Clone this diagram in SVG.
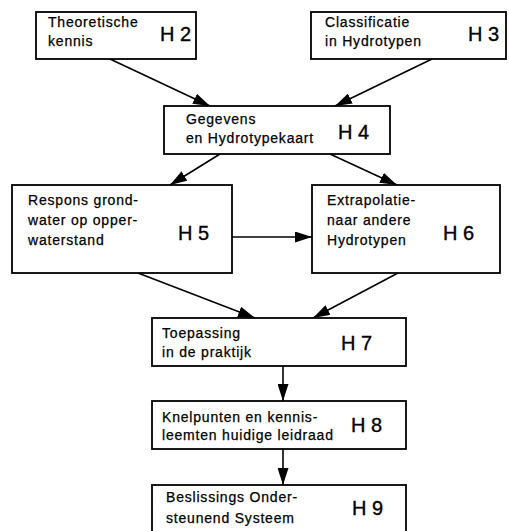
<svg xmlns="http://www.w3.org/2000/svg" width="509" height="531" viewBox="0 0 509 531">
  <defs>
    <marker id="arrow" viewBox="0 0 17 11" markerWidth="17" markerHeight="11" refX="17" refY="5.5" orient="auto" markerUnits="userSpaceOnUse">
      <path d="M0,0 L17,5.5 L0,11 z" fill="#000"/>
    </marker>
    <style>
      .box { fill: #fff; stroke: #000; stroke-width: 1.8; }
      .txt { font-family: "Liberation Sans", Arial, sans-serif; font-size: 14px; letter-spacing: 0.8px; fill: #000; stroke: #000; stroke-width: 0.25; }
      .ch { font-family: "Liberation Sans", Arial, sans-serif; font-size: 20px; fill: #000; stroke: #000; stroke-width: 0.35; }
      .edge { stroke: #000; stroke-width: 1.6; fill: none; marker-end: url(#arrow); }
    </style>
  </defs>

  <rect width="509" height="531" fill="#fff"/>

  <!-- connectors -->
  <g id="connectors">
    <line class="edge" x1="110" y1="59" x2="210" y2="106"/>
    <line class="edge" x1="432" y1="59" x2="335" y2="106"/>
    <line class="edge" x1="220" y1="154" x2="170" y2="185"/>
    <line class="edge" x1="330" y1="154" x2="397" y2="185"/>
    <line class="edge" x1="232" y1="237" x2="312" y2="237"/>
    <line class="edge" x1="138" y1="273" x2="255" y2="318"/>
    <line class="edge" x1="398" y1="273" x2="313" y2="318"/>
    <line class="edge" x1="283" y1="366" x2="283" y2="401"/>
    <line class="edge" x1="283" y1="449" x2="283" y2="485"/>
  </g>

  <g id="h2">
    <rect class="box" x="36" y="12" width="160" height="47"/>
    <text class="txt" x="48" y="27">Theoretische</text>
    <text class="txt" x="48" y="46">kennis</text>
    <text class="ch" x="160" y="41">H 2</text>
  </g>

  <g id="h3">
    <rect class="box" x="311" y="12" width="195" height="47"/>
    <text class="txt" x="325" y="27">Classificatie</text>
    <text class="txt" x="325" y="46">in Hydrotypen</text>
    <text class="ch" x="468" y="41">H 3</text>
  </g>

  <g id="h4">
    <rect class="box" x="164" y="106" width="226" height="48"/>
    <text class="txt" x="186" y="124">Gegevens</text>
    <text class="txt" x="186" y="143">en Hydrotypekaart</text>
    <text class="ch" x="338" y="139">H 4</text>
  </g>

  <g id="h5">
    <rect class="box" x="12" y="185" width="220" height="88"/>
    <text class="txt" x="28" y="205">Respons grond-</text>
    <text class="txt" x="28" y="225">water op opper-</text>
    <text class="txt" x="28" y="245">waterstand</text>
    <text class="ch" x="178" y="240">H 5</text>
  </g>

  <g id="h6">
    <rect class="box" x="312" y="185" width="188" height="88"/>
    <text class="txt" x="327" y="205">Extrapolatie-</text>
    <text class="txt" x="327" y="225">naar andere</text>
    <text class="txt" x="327" y="245">Hydrotypen</text>
    <text class="ch" x="443" y="240">H 6</text>
  </g>

  <g id="h7">
    <rect class="box" x="152" y="318" width="254" height="48"/>
    <text class="txt" x="162" y="338">Toepassing</text>
    <text class="txt" x="162" y="357">in de praktijk</text>
    <text class="ch" x="341" y="350">H 7</text>
  </g>

  <g id="h8">
    <rect class="box" x="152" y="401" width="254" height="48"/>
    <text class="txt" x="162" y="422">Knelpunten en kennis-</text>
    <text class="txt" x="162" y="440">leemten huidige leidraad</text>
    <text class="ch" x="351" y="432">H 8</text>
  </g>

  <g id="h9">
    <rect class="box" x="152" y="485" width="254" height="50"/>
    <text class="txt" x="166" y="502">Beslissings Onder-</text>
    <text class="txt" x="166" y="523">steunend Systeem</text>
    <text class="ch" x="352" y="515">H 9</text>
  </g>
</svg>
